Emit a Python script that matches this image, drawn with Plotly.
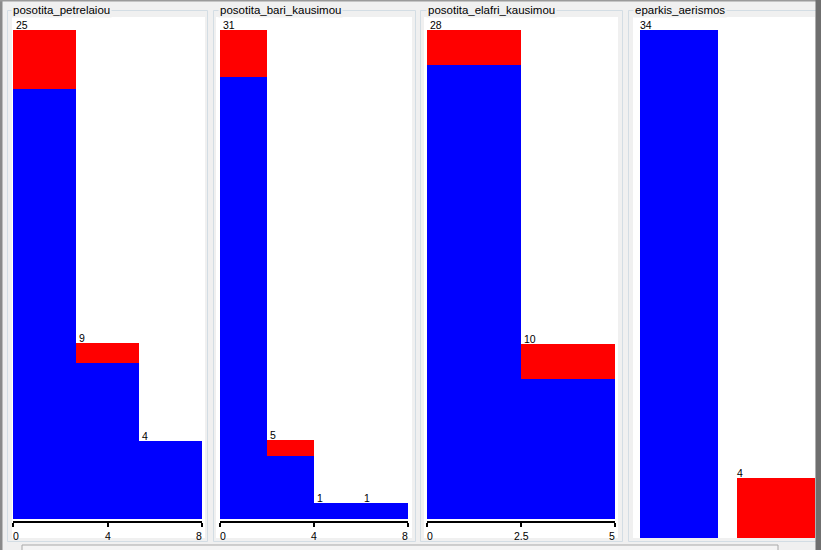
import plotly.graph_objects as go

# ---------------- data ----------------
attr_names = ["posotita_petrelaiou", "posotita_bari_kausimou",
              "posotita_elafri_kausimou", "eparkis_aerismos"]
# numeric attributes: axis range and bin counts per class
range_p1 = [0, 8]
blue_p1 = [22, 8, 4]
red_p1 = [3, 1, 0]

range_p2 = [0, 8]
blue_p2 = [28, 4, 1, 1]
red_p2 = [3, 1, 0, 0]

range_p3 = [0, 5]
blue_p3 = [26, 8]
red_p3 = [2, 2]

# nominal attribute (two values)
blue_p4 = [34, 0]
red_p4 = [0, 4]

tick_labels_p1 = ["0", "4", "8"]
tick_labels_p2 = ["0", "4", "8"]
tick_labels_p3 = ["0", "2.5", "5"]

BLUE = "#0000ff"
RED = "#ff0000"
BG = "#f0f0f0"

W, H = 821, 550


def fx(px):
    return px / W


def fy(py):
    return 1 - py / H


fig = go.Figure()
shapes = []
annotations = []

# window frame / background decorations
shapes.append(dict(type="rect", xref="paper", yref="paper", x0=fx(0), x1=fx(2.5), y0=fy(550), y1=fy(0),
                   fillcolor="#8a8a8a", line_width=0, layer="below"))
shapes.append(dict(type="rect", xref="paper", yref="paper", x0=fx(0), x1=fx(821), y0=fy(1.5), y1=fy(0),
                   fillcolor="#9a9a9a", line_width=0, layer="below"))
shapes.append(dict(type="rect", xref="paper", yref="paper", x0=fx(22), x1=fx(778), y0=fy(551), y1=fy(545),
                   fillcolor="#f4f4f4", line=dict(color="#a8a8a8", width=1), layer="below"))

# panel geometry (pixels)
panels = [
    dict(name=attr_names[0], border=(7, 207), white=(12, 205), plot=(13, 202), title_x=12,
         rng=range_p1, blue=blue_p1, red=red_p1, ticks=tick_labels_p1, bottom=519, numeric=True),
    dict(name=attr_names[1], border=(213, 415), white=(216, 412), plot=(220, 408), title_x=219,
         rng=range_p2, blue=blue_p2, red=red_p2, ticks=tick_labels_p2, bottom=519, numeric=True),
    dict(name=attr_names[2], border=(420, 622), white=(424, 618), plot=(427, 615), title_x=427,
         rng=range_p3, blue=blue_p3, red=red_p3, ticks=tick_labels_p3, bottom=519, numeric=True),
    dict(name=attr_names[3], border=(628, 830), white=(633, 815), plot=(640, 815), title_x=634,
         rng=None, blue=blue_p4, red=red_p4, ticks=None, bottom=538, numeric=False),
]

TOP = 30
LABEL_FONT = dict(family="Liberation Sans", size=10.5, color="black")
for i, p in enumerate(panels):
    n = i + 1
    xa = "x" if n == 1 else f"x{n}"
    ya = "y" if n == 1 else f"y{n}"
    xkey = "xaxis" if n == 1 else f"xaxis{n}"
    ykey = "yaxis" if n == 1 else f"yaxis{n}"

    # panel border + white area
    shapes.append(dict(type="rect", xref="paper", yref="paper",
                       x0=fx(p["border"][0] + 0.5), x1=fx(p["border"][1] + 0.5),
                       y0=fy(541.5), y1=fy(10.5),
                       line=dict(color="#d3dde4", width=1), fillcolor="rgba(0,0,0,0)", layer="below"))
    shapes.append(dict(type="rect", xref="paper", yref="paper",
                       x0=fx(p["white"][0]), x1=fx(p["white"][1]), y0=fy(538), y1=fy(17),
                       fillcolor="white", line_width=0, layer="below"))
    annotations.append(dict(xref="paper", yref="paper", x=fx(p["title_x"] - 1), y=fy(9.5),
                            xanchor="left", yanchor="middle", text=p["name"], showarrow=False,
                            bgcolor=BG, borderpad=1,
                            font=dict(family="Liberation Sans", size=11.5, color="black")))

    totals = [b + r for b, r in zip(p["blue"], p["red"])]
    ymax = max(totals)
    nb = len(p["blue"])

    if p["numeric"]:
        lo, hi = p["rng"]
        bw = (hi - lo) / nb
        centers = [lo + bw * (k + 0.5) for k in range(nb)]
        lefts = [lo + bw * k for k in range(nb)]
        xrange_ = [lo, hi]
        label_shift = 2
        fig.update_layout(**{xkey: dict(domain=[fx(p["plot"][0]), fx(p["plot"][1])], range=xrange_,
                                        showgrid=False, zeroline=False, showline=True, linecolor="black",
                                        linewidth=2, ticks="outside", ticklen=4, tickwidth=2,
                                        tickcolor="black", tickvals=[lo, (lo + hi) / 2, hi],
                                        showticklabels=False, anchor="free", position=fy(521.5),
                                        fixedrange=True)})
        anchors = ["left", "center", "right"]
        for tv, tl, an in zip([lo, (lo + hi) / 2, hi], p["ticks"], anchors):
            annotations.append(dict(xref=xa, yref="paper", x=tv, y=fy(528.5), xanchor=an, yanchor="top",
                                    text=tl, showarrow=False, borderpad=0,
                                    xshift=(-1 if an == "left" else (1 if an == "right" else 0)),
                                    font=LABEL_FONT))
    else:
        # nominal: bars of fixed width with gaps
        bw = 78 / 97
        centers = list(range(nb))
        lefts = [c - bw / 2 for c in centers]
        px_per_unit = 97
        x0 = -39 / px_per_unit
        x1 = x0 + (p["plot"][1] - p["plot"][0]) / px_per_unit
        xrange_ = [x0, x1]
        label_shift = -1
        fig.update_layout(**{xkey: dict(domain=[fx(p["plot"][0]), fx(p["plot"][1])], range=xrange_,
                                        visible=False, fixedrange=True, anchor=ya)})

    fig.update_layout(**{ykey: dict(domain=[fy(p["bottom"]), fy(TOP)], range=[0, ymax],
                                    visible=False, fixedrange=True, anchor=xa)})

    fig.add_trace(go.Bar(x=centers, y=p["blue"], base=[0] * nb, width=[bw] * nb,
                         marker=dict(color=BLUE, line_width=0), xaxis=xa, yaxis=ya,
                         showlegend=False, hoverinfo="skip"))
    fig.add_trace(go.Bar(x=centers, y=p["red"], base=p["blue"], width=[bw] * nb,
                         marker=dict(color=RED, line_width=0), xaxis=xa, yaxis=ya,
                         showlegend=False, hoverinfo="skip"))

    for lx, t in zip(lefts, totals):
        if t > 0:
            annotations.append(dict(xref=xa, yref=ya, x=lx, y=t, xanchor="left", yanchor="bottom",
                                    text=str(t), showarrow=False, borderpad=0, xshift=label_shift,
                                    yshift=-2, font=LABEL_FONT))

# right window edge
shapes.append(dict(type="rect", xref="paper", yref="paper", x0=fx(815.5), x1=fx(821), y0=fy(550), y1=fy(0),
                   fillcolor="#6f6f6f", line_width=0, layer="above"))

fig.update_layout(width=W, height=H, margin=dict(l=0, r=0, t=0, b=0),
                  paper_bgcolor=BG, plot_bgcolor="rgba(0,0,0,0)",
                  barmode="overlay", bargap=0, shapes=shapes, annotations=annotations,
                  showlegend=False)

fig.write_html("out.html")
